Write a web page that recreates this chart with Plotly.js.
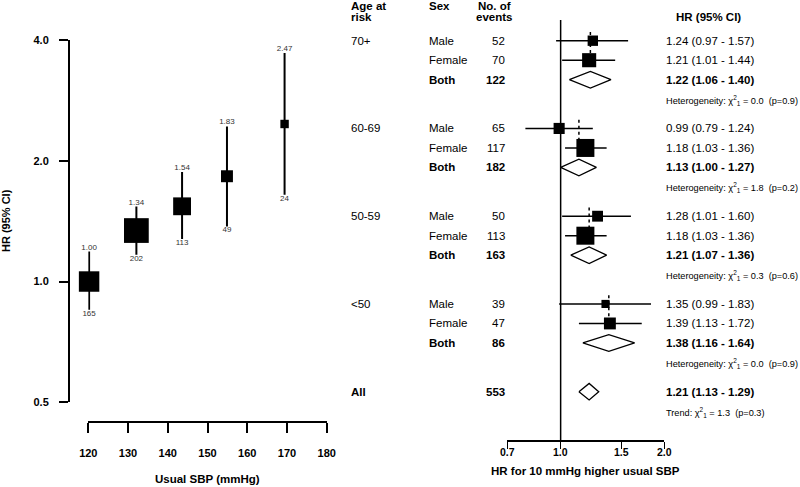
<!DOCTYPE html>
<html>
<head>
<meta charset="utf-8">
<script src="https://cdn.plot.ly/plotly-3.0.1.min.js"></script>
<style>html,body{margin:0;padding:0;background:#fff}#chart{width:800px;height:487px}</style>
</head>
<body>
<div id="chart"></div>
<script>
// ---- Left panel data: HR by usual SBP ----
const sbpMeans   = [120.2, 132.1, 143.6, 154.9, 169.4];
const sbpHR      = [1.00, 1.34, 1.54, 1.83, 2.47];
const sbpLow     = [0.85, 1.166, 1.276, 1.372, 1.645];
const sbpHigh    = [1.188, 1.538, 1.874, 2.436, 3.71];
const sbpEvents  = [165, 202, 113, 49, 24];
const sbpTicks   = [120, 130, 140, 150, 160, 170, 180];
const hrTicks    = [0.5, 1.0, 2.0, 4.0];
const hrTickText = ['0.5', '1.0', '2.0', '4.0'];

// ---- Right panel data: forest plot ----
const ageGroups = ['70+', '60-69', '50-59', '<50'];
const sexLabels = ['Male', 'Female', 'Both'];
const groupEvents = [[52, 70, 122], [65, 117, 182], [50, 113, 163], [39, 47, 86]];
const groupHR   = [[1.24, 1.21, 1.22], [0.99, 1.18, 1.13], [1.28, 1.18, 1.21], [1.35, 1.39, 1.38]];
const groupLow  = [[0.97, 1.01, 1.06], [0.79, 1.03, 1.00], [1.01, 1.03, 1.07], [0.99, 1.13, 1.16]];
const groupHigh = [[1.57, 1.44, 1.40], [1.24, 1.36, 1.27], [1.60, 1.36, 1.36], [1.83, 1.72, 1.64]];
const hetChi = ['0.0', '1.8', '0.3', '0.0'];
const hetP   = ['0.9', '0.2', '0.6', '0.9'];
const allLabel = 'All';
const allEvents = 553;
const allHR = 1.21, allLow = 1.13, allHigh = 1.29;
const trendChi = '1.3', trendP = '0.3';
const forestTicks = [0.7, 1.0, 1.5, 2.0];
const forestTickText = ['0.7', '1.0', '1.5', '2.0'];

// ---- layout helpers (pixels -> paper) ----
const W = 800, H = 487;
const px = v => v / W;
const py = v => 1 - v / H;
const ROW = 19.5, ROW0 = 40.7;         // row spacing / first row pixel
const rowTop = -ROW0 / ROW;
const rowBot = (H - ROW0) / ROW;
const pixToRow = p => (p - ROW0) / ROW;
const FONT = 'Liberation Sans, Arial, Helvetica, sans-serif';
const NB = '\u00a0';

const traces = [];

// Left panel
traces.push({
  x: sbpMeans, y: sbpHR, xaxis: 'x', yaxis: 'y', type: 'scatter', mode: 'markers',
  cliponaxis: false, hoverinfo: 'skip',
  marker: { symbol: 'square', color: '#000', opacity: 1, size: sbpHR.map((v, i) => 6.85 / Math.log(sbpHigh[i] / sbpLow[i])), line: { width: 0 } },
  error_y: { type: 'data', symmetric: false, array: sbpHigh.map((v, i) => v - sbpHR[i]), arrayminus: sbpLow.map((v, i) => sbpHR[i] - v), color: '#000', thickness: 2, width: 0 }
});
traces.push({
  x: sbpMeans, y: sbpHigh, xaxis: 'x', yaxis: 'y', type: 'scatter', mode: 'text', cliponaxis: false, hoverinfo: 'skip',
  text: sbpHR.map(v => v.toFixed(2)), textposition: 'top center', textfont: { family: FONT, size: 8, color: '#333' }
});
traces.push({
  x: sbpMeans, y: sbpLow, xaxis: 'x', yaxis: 'y', type: 'scatter', mode: 'text', cliponaxis: false, hoverinfo: 'skip',
  text: sbpEvents.map(String), textposition: 'bottom center', textfont: { family: FONT, size: 8, color: '#333' }
});

// Right panel: rows
const base = g => g * 4.5;
const allRow = 18;
const annotations = [];
const tA = (x, y, text, opts = {}) => annotations.push(Object.assign({
  xref: 'paper', yref: 'y2', x: px(x), y: y, text: text, showarrow: false,
  xanchor: 'left', yanchor: 'middle', font: { family: FONT, size: 11.5, color: '#000' }
}, opts));

// vertical reference line at HR = 1
traces.push({ x: [1, 1], y: [pixToRow(20), pixToRow(440)], xaxis: 'x2', yaxis: 'y2', type: 'scatter', mode: 'lines',
  cliponaxis: false, hoverinfo: 'skip', line: { color: '#000', width: 1.5 } });

// dotted lines at pooled estimate
const dx = [], dy = [];
ageGroups.forEach((a, g) => { dx.push(groupHR[g][2], groupHR[g][2], null); dy.push(base(g) - 0.45, base(g) + 1, null); });
traces.push({ x: dx, y: dy, xaxis: 'x2', yaxis: 'y2', type: 'scatter', mode: 'lines', hoverinfo: 'skip',
  line: { color: '#000', width: 1.5, dash: 'dot' } });

// CI lines and boxes for Male / Female
const cx = [], cy = [], bx = [], by = [], bs = [];
ageGroups.forEach((a, g) => {
  [0, 1].forEach(s => {
    const r = base(g) + s;
    cx.push(groupLow[g][s], groupHigh[g][s], null); cy.push(r, r, null);
    bx.push(groupHR[g][s]); by.push(r); bs.push(5 / Math.log(groupHigh[g][s] / groupLow[g][s]));
  });
});
traces.push({ x: cx, y: cy, xaxis: 'x2', yaxis: 'y2', type: 'scatter', mode: 'lines', hoverinfo: 'skip',
  line: { color: '#000', width: 1.5 } });
traces.push({ x: bx, y: by, xaxis: 'x2', yaxis: 'y2', type: 'scatter', mode: 'markers', hoverinfo: 'skip', cliponaxis: false,
  marker: { symbol: 'square', color: '#000', opacity: 1, size: bs, line: { width: 0 } } });

// diamonds
const dh = 8.3 / ROW;
const diamond = (lo, est, hi, r) => ({
  x: [lo, est, hi, est, lo], y: [r, r - dh, r, r + dh, r], xaxis: 'x2', yaxis: 'y2', type: 'scatter', mode: 'lines',
  fill: 'toself', fillcolor: '#fff', hoverinfo: 'skip', cliponaxis: false, line: { color: '#000', width: 1.3 }
});
ageGroups.forEach((a, g) => traces.push(diamond(groupLow[g][2], groupHR[g][2], groupHigh[g][2], base(g) + 2)));
traces.push(diamond(allLow, allHR, allHigh, allRow));

// text columns
const COL_AGE = 349, COL_SEX = 427, COL_EV = 507, COL_HR = 664;
const hdr = { family: FONT, size: 11.5, color: '#000', weight: 'bold' };
tA(COL_AGE, pixToRow(5.5), 'Age at', { font: hdr });
tA(COL_AGE, pixToRow(17), 'risk', { font: hdr });
tA(COL_SEX, pixToRow(5.5), 'Sex', { font: hdr });
tA(494, pixToRow(5.5), 'No. of', { font: hdr, xanchor: 'center' });
tA(494, pixToRow(17), 'events', { font: hdr, xanchor: 'center' });
tA(708, pixToRow(16.7), 'HR (95% CI)', { font: hdr, xanchor: 'center' });

const fmtCI = (h, l, u) => `${h.toFixed(2)} (${l.toFixed(2)} - ${u.toFixed(2)})`;
const small = { family: FONT, size: 9.2, color: '#000' };
ageGroups.forEach((a, g) => {
  const b = base(g);
  tA(COL_AGE, b, a);
  sexLabels.forEach((s, k) => {
    const bold = k === 2;
    const f = { family: FONT, size: 11.5, color: '#000', weight: bold ? 'bold' : 'normal' };
    tA(COL_SEX, b + k, s, { font: f });
    tA(COL_EV, b + k, String(groupEvents[g][k]), { font: f, xanchor: 'right' });
    tA(COL_HR, b + k, fmtCI(groupHR[g][k], groupLow[g][k], groupHigh[g][k]), { font: f });
  });
  tA(COL_HR, b + 3.05, `Heterogeneity: \u03c7<sup>2</sup><sub>1</sub> = ${hetChi[g]}${NB}${NB}(p=${hetP[g]})`, { font: small });
});
const fb = { family: FONT, size: 11.5, color: '#000', weight: 'bold' };
tA(COL_AGE, allRow, allLabel, { font: fb });
tA(COL_EV, allRow, String(allEvents), { font: fb, xanchor: 'right' });
tA(COL_HR, allRow, fmtCI(allHR, allLow, allHigh), { font: fb });
tA(COL_HR, allRow + 1.05, `Trend: \u03c7<sup>2</sup><sub>1</sub> = ${trendChi}${NB}${NB}(p=${trendP})`, { font: small });

// forest axis tick labels (sit just below the short ticks)
forestTicks.forEach((v, i) => annotations.push({
  xref: 'x2', yref: 'paper', x: Math.log10(v), y: py(452), text: forestTickText[i], showarrow: false,
  xanchor: 'center', yanchor: 'middle', font: { family: FONT, size: 10.5, color: '#000', weight: 'bold' }
}));

// axis titles
annotations.push({ xref: 'paper', yref: 'paper', x: px(6), y: py(221), text: 'HR (95% CI)', textangle: -90, showarrow: false,
  xanchor: 'center', yanchor: 'middle', font: { family: FONT, size: 11, color: '#000', weight: 'bold' } });
annotations.push({ xref: 'paper', yref: 'paper', x: px(207.5), y: py(479), text: 'Usual SBP (mmHg)', showarrow: false,
  xanchor: 'center', yanchor: 'middle', font: { family: FONT, size: 11.5, color: '#000', weight: 'bold' } });
annotations.push({ xref: 'paper', yref: 'paper', x: px(585), y: py(471), text: 'HR for 10 mmHg higher usual SBP', showarrow: false,
  xanchor: 'center', yanchor: 'middle', font: { family: FONT, size: 11.5, color: '#000', weight: 'bold' } });

const tickFont = { family: FONT, size: 11, color: '#000', weight: 'bold' };
const layout = {
  width: W, height: H, margin: { l: 0, r: 0, t: 0, b: 0 },
  paper_bgcolor: '#fff', plot_bgcolor: 'rgba(0,0,0,0)', showlegend: false,
  font: { family: FONT, color: '#000' },
  xaxis: {
    domain: [px(88.3), px(326.7)], range: [120, 180], anchor: 'free', position: py(421.7), side: 'bottom',
    showline: true, linecolor: '#000', linewidth: 2, ticks: 'outside', ticklen: 10, tickwidth: 2, tickcolor: '#000',
    tickvals: sbpTicks, ticktext: sbpTicks.map(String), tickfont: tickFont, ticklabelstandoff: 11,
    showgrid: false, zeroline: false, fixedrange: true
  },
  yaxis: {
    domain: [py(402.3), py(40)], type: 'log', range: [Math.log10(0.5), Math.log10(4)], anchor: 'free', position: px(69),
    showline: true, linecolor: '#000', linewidth: 2, ticks: 'outside', ticklen: 9, tickwidth: 2, tickcolor: '#000',
    tickvals: hrTicks, ticktext: hrTickText, tickfont: tickFont, ticklabelstandoff: 8,
    showgrid: false, zeroline: false, fixedrange: true
  },
  xaxis2: {
    domain: [px(507.3), px(664.3)], type: 'log', range: [Math.log10(0.7), Math.log10(2.0)], anchor: 'free', position: py(440), side: 'bottom',
    showline: true, linecolor: '#000', linewidth: 1.5, ticks: 'outside', ticklen: 7, tickwidth: 1.5, tickcolor: '#000',
    tickvals: forestTicks, showticklabels: false, showgrid: false, zeroline: false, fixedrange: true
  },
  yaxis2: {
    domain: [0, 1], range: [rowBot, rowTop], anchor: 'x2', visible: false, showgrid: false, zeroline: false, fixedrange: true
  },
  annotations: annotations
};

Plotly.newPlot('chart', traces, layout, { displayModeBar: false, staticPlot: true });
</script>
</body>
</html>
